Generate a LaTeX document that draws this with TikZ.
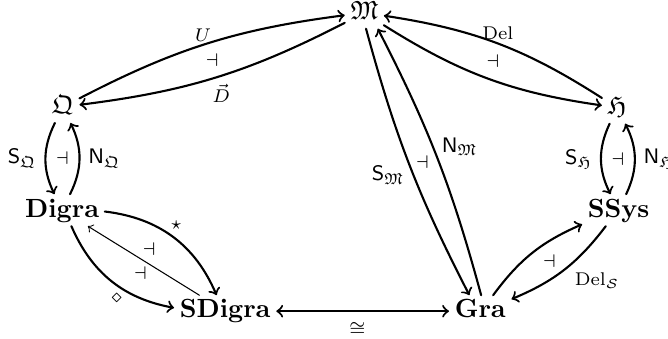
\documentclass[tikz,border=0pt]{standalone}
\usepackage{amsmath}
\usepackage{amssymb}

\begin{document}
\begin{tikzpicture}[>=to, line cap=round, line join=round,
    obj/.style={inner sep=2pt, text height=1.5ex, text depth=.3ex},
    arr/.style={->, line width=0.8pt},
    lab/.style={font=\scriptsize, inner sep=1pt},
    sflab/.style={font=\footnotesize, inner sep=1pt},
    adj/.style={font=\scriptsize, inner sep=0pt}]
  \useasboundingbox (0,0) rectangle (8.93,4.53);

  % Objects
  \node[obj] (M)      at (4.87, 4.36) {$\mathfrak{M}$};
  \node[obj] (Q)      at (0.84, 3.10) {$\mathfrak{Q}$};
  \node[obj] (H)      at (8.25, 3.09) {$\mathfrak{H}$};
  \node[obj] (Digra)  at (0.83, 1.72) {$\mathbf{Digra}$};
  \node[obj] (SSys)   at (8.27, 1.72) {$\mathbf{SSys}$};
  \node[obj] (SDigra) at (3.01, 0.37) {$\mathbf{SDigra}$};
  \node[obj] (Gra)    at (6.42, 0.37) {$\mathbf{Gra}$};

  % Q -- M
  \draw[arr] (Q) to[bend left=10] node[lab, pos=0.48, above] {$U$} (M);
  \draw[arr] (M) to[bend left=10] node[lab, pos=0.48, below=2pt] {$\vec{D}$} (Q);
  \path (Q) -- node[adj] (aQM) {$\dashv$} (M);

  % H -- M
  \draw[arr] (H) to[bend right=12] node[lab, above] {$\mathrm{Del}$} (M);
  \draw[arr] (M) to[bend right=12] (H);
  \path (M) -- node[adj] (aMH) {$\dashv$} (H);

  % Q -- Digra
  \draw[arr] (Q) to[bend right=26] node[sflab, left=2pt] {$\mathsf{S}_{\mathfrak{Q}}$} (Digra);
  \draw[arr] (Digra) to[bend right=26] node[sflab, right=2pt] {$\mathsf{N}_{\mathfrak{Q}}$} (Q);
  \path (Q) -- node[adj] (aQD) {$\dashv$} (Digra);

  % H -- SSys
  \draw[arr] (H) to[bend right=26] node[sflab, left=2pt] {$\mathsf{S}_{\mathfrak{H}}$} (SSys);
  \draw[arr] (SSys) to[bend right=26] node[sflab, right=2pt] {$\mathsf{N}_{\mathfrak{H}}$} (H);
  \path (H) -- node[adj] (aHS) {$\dashv$} (SSys);

  % M -- Gra
  \draw[arr, transform canvas={xshift=-1pt}] (M) to[bend right=6]
    node[sflab, pos=0.54, left=2pt] {$\mathsf{S}_{\mathfrak{M}}$} (Gra);
  \draw[arr, transform canvas={xshift=2pt}] (Gra) to[bend right=6]
    node[sflab, pos=0.55, right=2pt] {$\mathsf{N}_{\mathfrak{M}}$} (M);
  \path (M) -- node[adj] (aMG) {$\dashv$} (Gra);

  % Gra -- SSys
  \draw[arr] (Gra) to[bend left=15] (SSys);
  \draw[arr] (SSys) to[bend left=15] node[lab, pos=0.45, below right=1pt] {$\mathrm{Del}_{\mathcal{S}}$} (Gra);
  \path (Gra) -- node[adj] (aGS) {$\dashv$} (SSys);

  % Digra -- SDigra
  \draw[arr] (Digra) to[bend left=30] node[lab, pos=0.45, above right=0pt] {$\star$} (SDigra);
  \draw[arr] (Digra) to[bend right=28] node[lab, pos=0.55, below=2pt] {$\diamond$} (SDigra);
  \draw[->, thin] (SDigra) -- (Digra);
  \path (Digra) -- node[adj, pos=0.55, above=3pt] (aDS1) {$\dashv$}
                   node[adj, pos=0.47, below=3pt] (aDS2) {$\dashv$} (SDigra);

  % SDigra -- Gra
  \draw[<->, line width=0.8pt] (SDigra) -- node[lab, pos=0.47, below=3pt] {$\cong$} (Gra);
\end{tikzpicture}
\end{document}
